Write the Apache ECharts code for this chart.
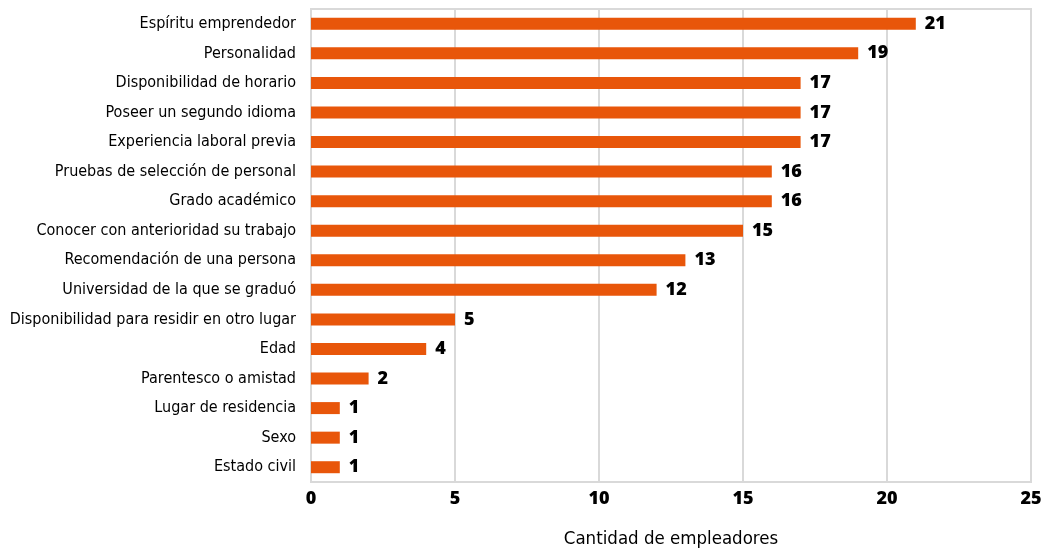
<!DOCTYPE html>
<html><head><meta charset="utf-8">
<script src="https://cdn.jsdelivr.net/npm/echarts@6/dist/echarts.min.js"></script>
<style>html,body{margin:0;padding:0;background:#fff}#c{width:1042px;height:550px}</style>
</head><body><div id="c"></div>
<script>
const categories = ["Espíritu emprendedor","Personalidad","Disponibilidad de horario","Poseer un segundo idioma","Experiencia laboral previa","Pruebas de selección de personal","Grado académico","Conocer con anterioridad su trabajo","Recomendación de una persona","Universidad de la que se graduó","Disponibilidad para residir en otro lugar","Edad","Parentesco o amistad","Lugar de residencia","Sexo","Estado civil"];
const values = [21,19,17,17,17,16,16,15,13,12,5,4,2,1,1,1];
const axisTitle = "Cantidad de empleadores";
const chart = echarts.init(document.getElementById('c'), null, {renderer:'canvas'});
chart.setOption({
  animation:false,
  grid:{left:311,right:11,top:9,bottom:68,show:true,borderColor:'#d9d9d9',borderWidth:2,containLabel:false,outerBoundsMode:'none'},
  xAxis:{type:'value',min:0,max:25,interval:5,
    name:axisTitle,nameLocation:'middle',nameGap:48,
    nameTextStyle:{fontFamily:'Liberation Sans Narrow, DejaVu Sans Condensed',fontSize:18.5,color:'#000'},
    axisLine:{show:false},axisTick:{show:false},
    splitLine:{lineStyle:{color:'#d9d9d9',width:2}},
    axisLabel:{fontFamily:'Open Sans',fontWeight:800,fontSize:18,color:'#000',margin:8}},
  yAxis:{type:'category',inverse:true,data:categories,
    axisLine:{show:true,lineStyle:{color:'#d9d9d9',width:2}},axisTick:{show:false},
    axisLabel:{fontFamily:'Liberation Sans Narrow, DejaVu Sans Condensed',fontSize:16,color:'#000',margin:15}},
  series:[{type:'bar',data:values,barWidth:12,itemStyle:{color:'#e8560a'},
    label:{show:true,position:'right',distance:9,fontFamily:'Open Sans',fontWeight:800,fontSize:18,color:'#000'}}]
});
</script></body></html>
